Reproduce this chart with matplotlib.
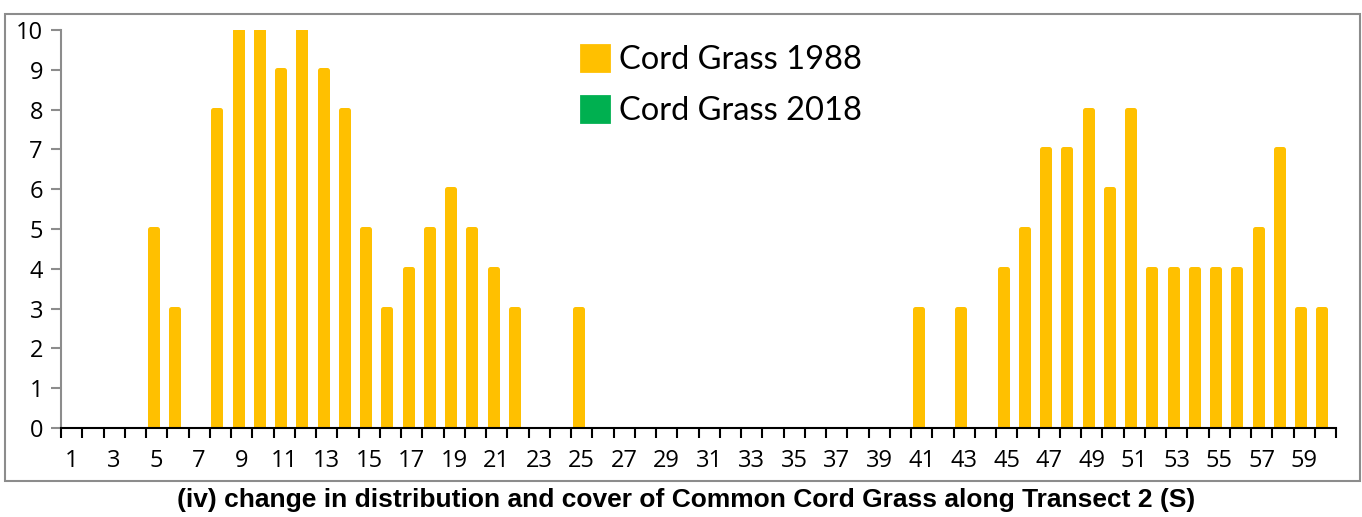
import matplotlib
matplotlib.use("Agg")
import matplotlib.pyplot as plt
from matplotlib.patches import Rectangle, Patch
import numpy as np

categories = list(range(1, 61))
cord_grass_1988 = [0, 0, 0, 0, 5, 3, 0, 8, 10, 10,
                   9, 10, 9, 8, 5, 3, 4, 5, 6, 5,
                   4, 3, 0, 0, 3, 0, 0, 0, 0, 0,
                   0, 0, 0, 0, 0, 0, 0, 0, 0, 0,
                   3, 0, 3, 0, 4, 5, 7, 7, 8, 6,
                   8, 4, 4, 4, 4, 4, 5, 7, 3, 3]
cord_grass_2018 = [0] * 60
series_labels = ["Cord Grass 1988", "Cord Grass 2018"]
y_ticks = list(range(0, 11))
title = "(iv) change in distribution and cover of Common Cord Grass along Transect 2 (S)"

YELLOW = "#FFC000"
GREEN = "#00B050"

W, H = 1362, 517
fig = plt.figure(figsize=(W / 100, H / 100), dpi=100)

# outer frame
fig.patches.append(Rectangle((5 / W, (H - 481) / H), (1360 - 5) / W, (481 - 14) / H,
                             transform=fig.transFigure, fill=False,
                             edgecolor="#8C8C8C", linewidth=1.5))

ax = fig.add_axes([61 / W, (H - 428) / H, (1336 - 61) / W, (428 - 30) / H])

x = np.array(categories, dtype=float)
lw_pt = 5 * 0.72
lws_1988 = [lw_pt if v > 0 else 0 for v in cord_grass_1988]
ax.bar(x - 0.165, cord_grass_1988, width=0.33, color=YELLOW, edgecolor=YELLOW,
       linewidth=lws_1988, joinstyle="round", zorder=2)
ax.bar(x + 0.25, cord_grass_2018, width=0.33, color=GREEN, edgecolor=GREEN,
       linewidth=0, zorder=2)

ax.set_xlim(0.5, 60.5)
ax.set_ylim(0, 10)

tick_font = "Open Sans"
font = "Lato"
ax.set_yticks(y_ticks)
ax.set_yticklabels([str(v) for v in y_ticks], fontsize=17, family=tick_font)
ax.set_xticks(categories[::2])
ax.set_xticklabels([str(c) for c in categories[::2]], fontsize=17, family=tick_font)
ax.set_xticks(np.arange(0.5, 61, 1.0), minor=True)
ax.tick_params(axis="x", which="major", length=0, pad=15)
ax.tick_params(axis="x", which="minor", length=7, width=1.5, color="black", direction="out")
ax.tick_params(axis="y", length=7, width=1.5, color="#8C8C8C", pad=6)

for s in ["top", "right"]:
    ax.spines[s].set_visible(False)
ax.spines["left"].set_color("#8C8C8C")
ax.spines["left"].set_linewidth(1.5)
ax.spines["bottom"].set_color("black")
ax.spines["bottom"].set_linewidth(1.5)
ax.spines["bottom"].set_zorder(3)

handles = [Patch(facecolor=YELLOW, edgecolor=YELLOW, linewidth=2, joinstyle="round"),
           Patch(facecolor=GREEN, edgecolor=GREEN, linewidth=2, joinstyle="round")]
fig.legend(handles, series_labels, loc="upper left",
           bbox_to_anchor=(581 / W, 1 - 45 / H), frameon=False,
           prop={"family": font, "size": 23.5}, handlelength=0.85, handleheight=0.85,
           handletextpad=0.3, labelspacing=0.63, borderaxespad=0, borderpad=0)

fig.text(686 / W, 1 - 500 / H, title, ha="center", va="center",
         fontsize=19, fontweight="bold", family="Liberation Sans")

fig.savefig("out.png", dpi=100)
